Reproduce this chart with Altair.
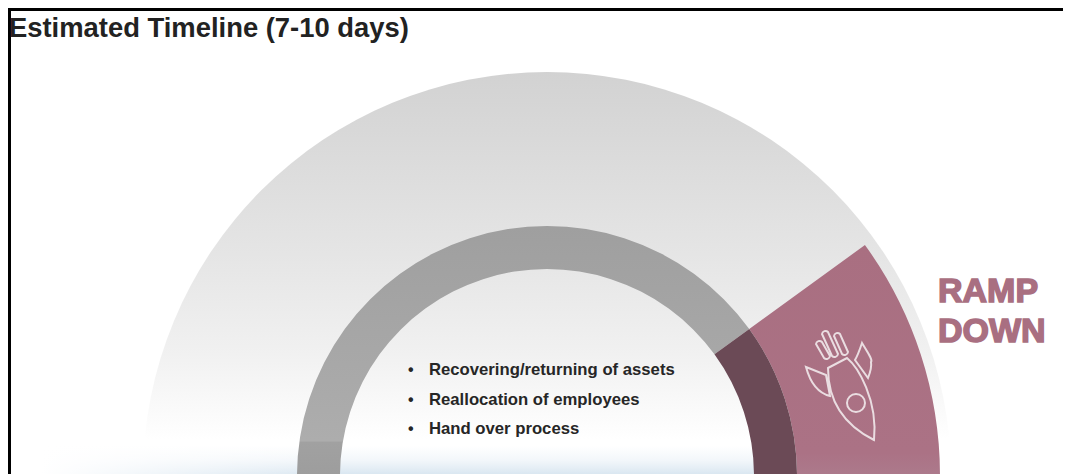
import altair as alt
import pandas as pd

W, H = 1055, 466
CX, CY = 539, 468

seg_names = ["fan", "ring", "pink", "dark"]
seg_start = [-90, -90, 54, 54]
seg_end = [90, 54, 90, 90]
seg_inner = [0, 207, 250, 207]
seg_outer = [404, 250, 393, 250]

title_text = ["Estimated Timeline (7-10 days)"]
ramp_text = ["RAMP", "DOWN"]
ramp_x = [930, 930]
ramp_y = [294, 334]
list_text = ["Recovering/returning of assets", "Reallocation of employees", "Hand over process"]
list_x = [421, 421, 421]
list_y = [367, 397, 426]
bullet_x = [400, 400, 400]

ROCKET = (
    "M-12,-17 L7,-27 C18,-18 38,15 34,55 C20,48 -12,30 -12,-17 Z "
    "M-34,-18 L-14,-10 L-10,11 C-22,8 -30,-3 -34,-18 Z "
    "M22,-42 C28,-32 33,-25 31,-23 C32,-17 30,-12 28,-7 L15,-25 C18,-30 20,-36 22,-42 Z "
    "M25,18 A9,9 0 1,1 7,18 A9,9 0 1,1 25,18 Z "
    "M-24,-41 L-16,-27 A3.5,3.5 0 0,0 -10,-29 L-18,-43 A3.5,3.5 0 0,0 -24,-41 Z "
    "M-18,-51 L-8,-29 A3.5,3.5 0 0,0 -2,-31 L-12,-53 A3.5,3.5 0 0,0 -18,-51 Z "
    "M-6,-49 L2,-31 A3.5,3.5 0 0,0 8,-33 L0,-51 A3.5,3.5 0 0,0 -6,-49 Z"
)

X = alt.Scale(domain=[0, W], range=[0, W])
Y = alt.Scale(domain=[0, H], range=[0, H])
TH = alt.Scale(domain=[-180, 180], range=[-3.14159265, 3.14159265])
RAD = alt.Scale(type="linear", domain=[0, 500], range=[0, 500])


def grad(stops):
    return alt.Gradient(
        gradient="linear", x1=0, x2=0, y1=0, y2=1,
        stops=[alt.GradientStop(offset=o, color=c) for o, c in stops],
    )


def hgrad(stops):
    return alt.Gradient(
        gradient="linear", x1=0, x2=1, y1=0, y2=0,
        stops=[alt.GradientStop(offset=o, color=c) for o, c in stops],
    )


def arc(name, fill):
    i = seg_names.index(name)
    df = pd.DataFrame([{
        "cx": CX, "cy": CY,
        "a": seg_start[i], "b": seg_end[i],
        "r0": seg_inner[i], "r1": seg_outer[i],
    }])
    return alt.Chart(df).mark_arc(fill=fill, stroke=None).encode(
        x=alt.X("cx:Q", scale=X, axis=None),
        y=alt.Y("cy:Q", scale=Y, axis=None),
        theta=alt.Theta("a:Q", scale=TH),
        theta2=alt.Theta2("b:Q"),
        radius=alt.Radius("r1:Q", scale=RAD),
        radius2=alt.Radius2("r0:Q"),
    )


def box(x0, x1, y0, y1, fill):
    return alt.Chart(pd.DataFrame({"x": [x0], "x2": [x1], "y": [y0], "y2": [y1]})).mark_rect(fill=fill).encode(
        x=alt.X("x:Q", scale=X, axis=None), x2="x2:Q",
        y=alt.Y("y:Q", scale=Y, axis=None), y2="y2:Q",
    )


def texts(labels, xs, ys, **kw):
    df = pd.DataFrame({"t": labels, "x": xs, "y": ys})
    return alt.Chart(df).mark_text(align="left", baseline="alphabetic", **kw).encode(
        x=alt.X("x:Q", scale=X, axis=None),
        y=alt.Y("y:Q", scale=Y, axis=None),
        text="t:N",
    )


fan = arc("fan", grad([(0, "#d2d2d2"), (0.45, "#e5e5e5"), (0.7, "#f1f1f1"), (0.91, "#ffffff"), (1, "#ffffff")]))

band = box(0, W, 438, H, grad([(0, "rgba(220,232,242,0)"), (0.5, "rgba(220,232,242,0.35)"), (1, "rgba(218,231,241,1)")]))
fade_left = box(0, 330, 430, H, hgrad([(0, "rgba(255,255,255,1)"), (0.1, "rgba(255,255,255,1)"), (1, "rgba(255,255,255,0)")]))
fade_right = box(740, W, 430, H, hgrad([(0, "rgba(255,255,255,0)"), (0.55, "rgba(255,255,255,1)"), (1, "rgba(255,255,255,1)")]))

ring = arc("ring", grad([(0, "#9f9f9f"), (0.86, "#adadad"), (0.865, "#a1a1a1"), (1, "#9d9d9d")]))
pink = arc("pink", grad([(0, "#a96f81"), (0.9, "#ab7285"), (1, "#ac7a8c")]))
dark = arc("dark", "#6b4a56")

rocket = alt.Chart(pd.DataFrame({"x": [832], "y": [377]})).mark_point(
    shape=ROCKET, size=4, filled=False, stroke="#eadde1", strokeWidth=2, opacity=1
).encode(
    x=alt.X("x:Q", scale=X, axis=None),
    y=alt.Y("y:Q", scale=Y, axis=None),
)

border_v = alt.Chart(pd.DataFrame({"x": [1.5], "y": [0], "y2": [H]})).mark_rule(
    color="#000000", strokeWidth=3
).encode(x=alt.X("x:Q", scale=X, axis=None), y=alt.Y("y:Q", scale=Y, axis=None), y2="y2:Q")
border_h = alt.Chart(pd.DataFrame({"y": [1.5], "x": [0], "x2": [W]})).mark_rule(
    color="#000000", strokeWidth=3
).encode(y=alt.Y("y:Q", scale=Y, axis=None), x=alt.X("x:Q", scale=X, axis=None), x2="x2:Q")

title = texts(title_text, [1], [29], font="Liberation Sans", fontSize=27.4, fontWeight="bold", color="#222222")
ramp = texts(ramp_text, ramp_x, ramp_y, font="Liberation Sans", fontSize=34, fontWeight="bold",
             color="#a96f81", stroke="#a96f81", strokeWidth=1.5)
items = texts(list_text, list_x, list_y, font="Liberation Sans", fontSize=16.7, fontWeight="bold", color="#262626")
bullets = texts(["•"] * 3, bullet_x, list_y, font="Liberation Sans", fontSize=16, fontWeight="bold", color="#262626")

chart = alt.layer(
    fan, band, fade_left, fade_right, ring, pink, dark, rocket, border_v, border_h, title, ramp, items, bullets
).resolve_scale(x="shared", y="shared").properties(
    width=W, height=H, padding=0, autosize=alt.AutoSizeParams(type="none"), background="#ffffff"
).configure_view(stroke=None)

chart.save("out.html", embed_options={"renderer": "svg", "actions": False})
